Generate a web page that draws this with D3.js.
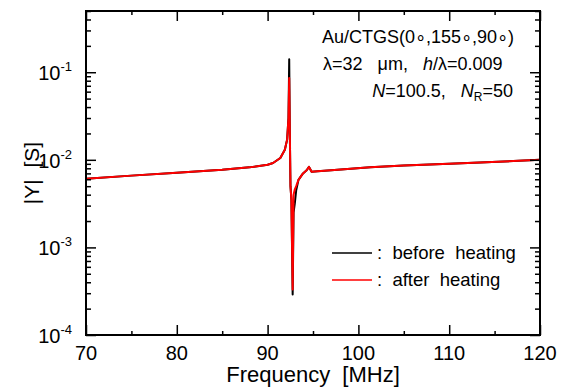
<!DOCTYPE html>
<html>
<head>
<meta charset="utf-8">
<script src="https://cdn.jsdelivr.net/npm/d3@7"></script>
<style>
body { margin: 0; background: #fff; }
text { font-family: Arial, "Liberation Sans", sans-serif; fill: #000; }
</style>
</head>
<body>
<svg id="chart" width="565" height="388"></svg>
<script>
// data
var freq = [70, 75, 80, 85, 88, 90, 90.6, 91.4, 91.9, 92.15, 92.3, 92.38, 92.45, 92.52, 92.62, 92.76, 92.86, 93.0, 93.15, 93.4, 93.9, 94.3, 94.56, 94.85, 95.5, 97, 101.3, 105, 110, 113.4, 120];
var beforeHeating = [0.00607, 0.0066, 0.00712, 0.0077, 0.0082, 0.0088, 0.0092, 0.0105, 0.013, 0.017, 0.03, 0.141, 0.02, 0.005, 0.0035, 0.00029, 0.0025, 0.0032, 0.0045, 0.0059, 0.007, 0.0076, 0.0083, 0.0073, 0.0074, 0.0076, 0.0082, 0.0086, 0.009, 0.0093, 0.01];
var afterHeating = [0.00607, 0.0066, 0.00712, 0.0077, 0.0082, 0.0088, 0.0092, 0.0105, 0.013, 0.017, 0.03, 0.086, 0.02, 0.005, 0.0035, 0.00033, 0.004, 0.0046, 0.005, 0.0059, 0.007, 0.0076, 0.0083, 0.0073, 0.0074, 0.0076, 0.0082, 0.0086, 0.009, 0.0093, 0.01];
var xTicks = [70, 80, 90, 100, 110, 120];
var yTicks = [1e-4, 1e-3, 1e-2, 1e-1];
var yTickExp = ["-4", "-3", "-2", "-1"];
var legendLabels = [":  before  heating", ":  after  heating"];
var seriesColors = ["#000000", "#ff0000"];

var svg = d3.select('#chart');
var L = 86, R = 540, T = 11, B = 335;

var x = d3.scaleLinear().domain([70, 120]).range([L, R]);
var y = d3.scaleLog().domain([1e-4, 0.5]).range([B, T]);

// minor ticks
var xMinor = d3.range(75, 120, 10);
var yMinor = [];
yTicks.forEach(function(d) {
    for (var m = 2; m <= 9; m++) {
        if (d * m <= 0.5) yMinor.push(d * m);
    }
});

// curves
var line = d3.line()
    .x(function(d) { return x(d[0]); })
    .y(function(d) { return y(d[1]); });

var series = [beforeHeating, afterHeating];
series.forEach(function(vals, i) {
    svg.append('path')
        .datum(freq.map(function(f, k) { return [f, vals[k]]; }))
        .attr('d', line)
        .attr('fill', 'none')
        .attr('stroke', seriesColors[i])
        .attr('stroke-width', 2)
        .attr('stroke-linejoin', 'round');
});

// inward ticks on all four sides
function tickAxis(axis, g, size) {
    svg.append('g').attr('transform', g)
        .call(axis.tickSize(size).tickFormat('').tickSizeOuter(0))
        .call(function(s) {
            s.select('.domain').remove();
            s.selectAll('line').attr('stroke', '#000').attr('stroke-width', 1.5);
        });
}
tickAxis(d3.axisBottom(x).tickValues(xTicks), 'translate(0,' + B + ')', -10);
tickAxis(d3.axisBottom(x).tickValues(xMinor), 'translate(0,' + B + ')', -4);
tickAxis(d3.axisTop(x).tickValues(xTicks), 'translate(0,' + T + ')', -10);
tickAxis(d3.axisTop(x).tickValues(xMinor), 'translate(0,' + T + ')', -4);
tickAxis(d3.axisLeft(y).tickValues(yTicks), 'translate(' + L + ',0)', -10);
tickAxis(d3.axisLeft(y).tickValues(yMinor), 'translate(' + L + ',0)', -5);
tickAxis(d3.axisRight(y).tickValues(yTicks), 'translate(' + R + ',0)', -10);
tickAxis(d3.axisRight(y).tickValues(yMinor), 'translate(' + R + ',0)', -5);

// frame
svg.append('rect')
    .attr('x', L).attr('y', T)
    .attr('width', R - L).attr('height', B - T)
    .attr('fill', 'none').attr('stroke', '#000').attr('stroke-width', 2);

// tick labels
svg.selectAll('.xlab').data(xTicks).enter().append('text')
    .attr('x', function(d) { return x(d); })
    .attr('y', 360)
    .attr('text-anchor', 'middle')
    .attr('font-size', 20)
    .text(function(d) { return d; });

var ylab = svg.selectAll('.ylab').data(yTicks).enter().append('text')
    .attr('x', 72)
    .attr('y', function(d) { return y(d) + 8; })
    .attr('text-anchor', 'end')
    .attr('font-size', 20);
ylab.append('tspan').text('10');
ylab.append('tspan').attr('font-size', 13).attr('dy', -9)
    .text(function(d, i) { return yTickExp[i]; });

// axis titles
svg.append('text')
    .attr('x', (L + R) / 2).attr('y', 382)
    .attr('text-anchor', 'middle')
    .attr('font-size', 22)
    .style('white-space', 'pre')
    .text('Frequency  [MHz]');

svg.append('text')
    .attr('transform', 'translate(39,' + (T + B) / 2 + ') rotate(-90)')
    .attr('text-anchor', 'middle')
    .attr('font-size', 21)
    .style('white-space', 'pre')
    .text('|Y|  [S]');

// annotation
var ann1 = svg.append('text').attr('x', 322).attr('y', 43).attr('font-size', 18)
    .text('Au/CTGS(0\u2218,155\u2218,90\u2218)');

var ann2 = svg.append('text').attr('x', 323).attr('y', 70).attr('font-size', 18)
    .style('white-space', 'pre');
ann2.append('tspan').text('\u03bb=32   \u03bcm,   ');
ann2.append('tspan').attr('font-style', 'italic').text('h');
ann2.append('tspan').text('/\u03bb=0.009');

var ann3 = svg.append('text').attr('x', 513).attr('y', 97).attr('font-size', 18)
    .attr('text-anchor', 'end')
    .style('white-space', 'pre');
ann3.append('tspan').attr('font-style', 'italic').text('N');
ann3.append('tspan').text('=100.5,   ');
ann3.append('tspan').attr('font-style', 'italic').text('N');
ann3.append('tspan').attr('font-size', 12).attr('dy', 4).text('R');
ann3.append('tspan').attr('dy', -4).text('=50');

// legend
var legY = [253, 280];
legendLabels.forEach(function(lab, i) {
    svg.append('line')
        .attr('x1', 332).attr('x2', 372)
        .attr('y1', legY[i]).attr('y2', legY[i])
        .attr('stroke', seriesColors[i]).attr('stroke-width', 1.5);
    svg.append('text')
        .attr('x', 377).attr('y', legY[i] + 6)
        .attr('font-size', 18.5)
        .style('white-space', 'pre')
        .text(lab);
});
</script>
</body>
</html>
